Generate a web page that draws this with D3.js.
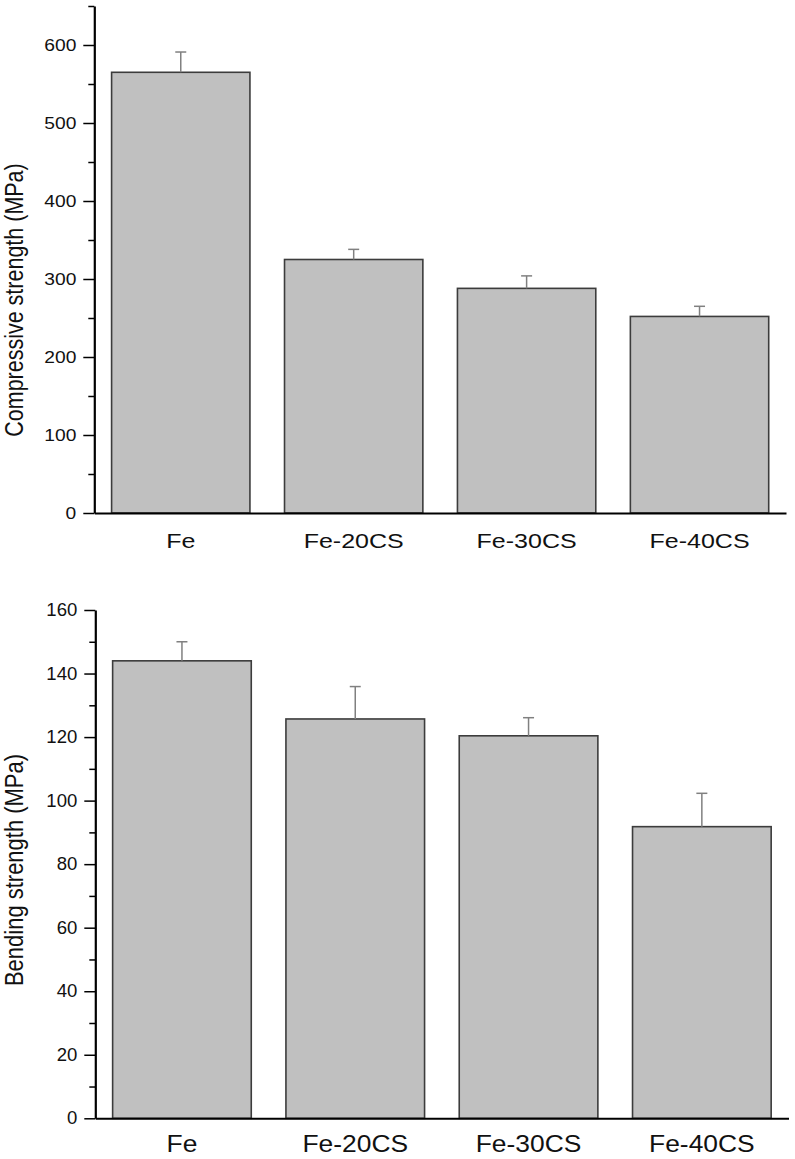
<!DOCTYPE html>
<html>
<head>
<meta charset="utf-8">
<script src="https://cdn.jsdelivr.net/npm/d3@7"></script>
<style>
  html, body { margin: 0; padding: 0; background: #fff; }
  svg { display: block; font-family: "Liberation Sans", Arial, sans-serif; }
</style>
</head>
<body>
<svg id="chart" width="795" height="1159"></svg>
<script>
// ---- data ----
const categories = ["Fe", "Fe-20CS", "Fe-30CS", "Fe-40CS"];
const compressive = [565, 325, 288, 252];
const compressiveErr = [26, 13, 16, 13];
const bending = [144, 125.7, 120.4, 91.8];
const bendingErr = [6, 10.2, 5.7, 10.5];
const compMajorTicks = [0, 100, 200, 300, 400, 500, 600];
const compMinorTicks = [50, 150, 250, 350, 450, 550, 650];
const bendMajorTicks = [0, 20, 40, 60, 80, 100, 120, 140, 160];
const bendMinorTicks = [10, 30, 50, 70, 90, 110, 130, 150];
const compTitle = "Compressive strength (MPa)";
const bendTitle = "Bending strength (MPa)";

const svg = d3.select("#chart");

function stretch(sel, sx) {
  sel.each(function () {
    const w = this.getComputedTextLength();
    d3.select(this).attr("textLength", w * sx).attr("lengthAdjust", "spacingAndGlyphs");
  });
}

function panel(cfg) {
  const x = d3.scaleBand().domain(categories).range(cfg.xRange).paddingInner(0.2).paddingOuter(0.1);
  const y = d3.scaleLinear().domain(cfg.yDomain).range(cfg.yRange);
  const g = svg.append("g");
  const ax = cfg.xRange[0];
  const y0 = y(0);

  // bars
  g.selectAll("rect.bar").data(cfg.values).join("rect")
    .attr("class", "bar")
    .attr("x", (d, i) => x(categories[i]))
    .attr("y", d => y(d))
    .attr("width", x.bandwidth())
    .attr("height", d => y0 - y(d))
    .attr("fill", "#c0c0c0")
    .attr("stroke", "#3c3c3c")
    .attr("stroke-width", 1.6);

  // error bars
  const eg = g.append("g").attr("stroke", "#808080").attr("stroke-width", 1.5).attr("fill", "none");
  cfg.values.forEach((v, i) => {
    const cx = x(categories[i]) + x.bandwidth() / 2;
    eg.append("line").attr("x1", cx).attr("x2", cx).attr("y1", y(v)).attr("y2", y(v + cfg.errs[i]));
    eg.append("line").attr("x1", cx - 5.5).attr("x2", cx + 5.5).attr("y1", y(v + cfg.errs[i])).attr("y2", y(v + cfg.errs[i]));
  });

  // y axis minor ticks
  const yMinor = g.append("g").attr("transform", `translate(${ax},0)`)
    .call(d3.axisLeft(y).tickValues(cfg.minor).tickSize(6).tickFormat(""));
  yMinor.select(".domain").remove();
  yMinor.selectAll(".tick line").attr("stroke", "#000").attr("stroke-width", 1.5);

  // y axis major
  const yAx = g.append("g").attr("transform", `translate(${ax},0)`)
    .call(d3.axisLeft(y).tickValues(cfg.major).tickSize(11).tickSizeOuter(0).tickPadding(7));
  yAx.select(".domain").attr("stroke", "#000").attr("stroke-width", 2.2);
  yAx.selectAll(".tick line").attr("stroke", "#000").attr("stroke-width", 1.5);
  yAx.selectAll(".tick text")
    .attr("fill", "#111")
    .style("font-size", cfg.tickFont + "px")
    .call(stretch, cfg.tickSx);

  // x axis
  const xAx = g.append("g").attr("transform", `translate(0,${y0})`)
    .call(d3.axisBottom(x).tickSize(0).tickSizeOuter(0));
  xAx.select(".domain").attr("stroke", "#000").attr("stroke-width", 2);
  xAx.selectAll(".tick text")
    .attr("y", cfg.xLabelOffset).attr("dy", 0)
    .attr("fill", "#111")
    .style("font-size", cfg.xFont + "px")
    .call(stretch, cfg.xSx);

  // title
  svg.append("text")
    .attr("transform", `translate(${cfg.titleX},${cfg.titleY}) rotate(-90) scale(1,${cfg.titleSy})`)
    .attr("text-anchor", "middle")
    .attr("fill", "#111")
    .style("font-size", cfg.titleFont + "px")
    .text(cfg.title);
}

panel({
  values: compressive, errs: compressiveErr,
  xRange: [94.3, 786], yDomain: [0, 650], yRange: [513, 6],
  major: compMajorTicks, minor: compMinorTicks,
  tickFont: 16, tickSx: 1.2, xFont: 20, xSx: 1.25, xLabelOffset: 34.5,
  title: compTitle, titleX: 23, titleY: 300, titleFont: 21.5, titleSy: 1.22
});

panel({
  values: bending, errs: bendingErr,
  xRange: [95.3, 788.5], yDomain: [0, 160], yRange: [1118.3, 610],
  major: bendMajorTicks, minor: bendMinorTicks,
  tickFont: 17.5, tickSx: 1.06, xFont: 24, xSx: 1.1, xLabelOffset: 33.4,
  title: bendTitle, titleX: 23, titleY: 870, titleFont: 22, titleSy: 1.15
});
</script>
</body>
</html>
